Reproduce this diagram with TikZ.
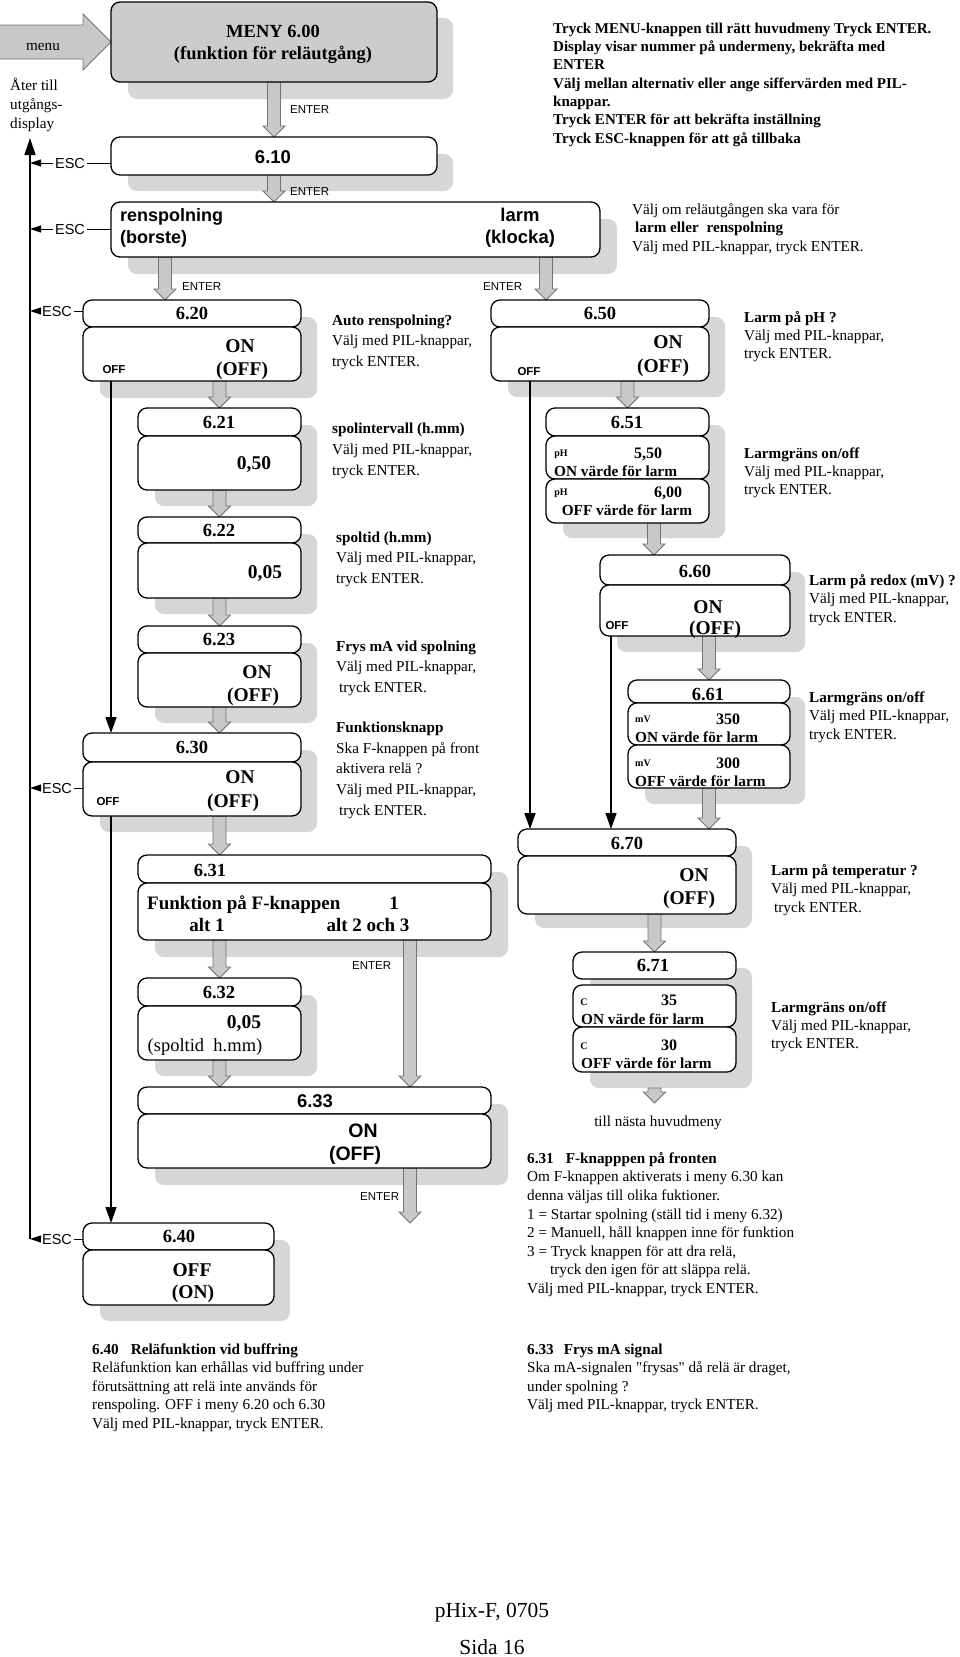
\documentclass[tikz,border=0pt]{standalone}
\usepackage{fontspec}
\setmainfont{Liberation Serif}
\setsansfont{Liberation Sans}
\newfontfamily\qfont{Liberation Serif}
\usetikzlibrary{arrows.meta,calc}
\definecolor{shgray}{RGB}{214,214,214}
\definecolor{argray}{RGB}{200,200,200}
\definecolor{aredge}{RGB}{115,115,115}
\definecolor{mngray}{RGB}{204,204,204}
\pgfdeclarelayer{bg}
\pgfsetlayers{bg,main}
\newcommand\mkbx[6][bx]{\node[#1,minimum width={#5pt-#3pt},minimum height={#6pt-#4pt}] (#2) at (#3,#4) {};}
\newcommand\zgarr[2]{\draw[garrow] let \p1=(#1), \p2=(#2) in (\x1-6.5pt,\y1) -- (\x1-6.5pt,\y2+11pt) -- (\x1-11pt,\y2+11pt) -- (\x1,\y2) -- (\x1+11pt,\y2+11pt) -- (\x1+6.5pt,\y2+11pt) -- (\x1+6.5pt,\y1) -- cycle;}
\newcommand\zpara[7][]{\node[anchor=north west,inner sep=0pt,align=left,font=\fontsize{#5}{#6}\selectfont#1] (#2) at (#3,{#4-0.7*#6}) {\strut#7};}
\begin{document}
\begin{tikzpicture}[x=1pt,y=-1pt,
 bx/.style={draw=black,line width=1.3pt,rounded corners=9pt,fill=white,inner sep=0pt,outer sep=0pt,anchor=north west},
 bxg/.style={bx,fill=mngray},
 shd/.style={fill=shgray,rounded corners=9pt,inner sep=0pt,outer sep=0pt,anchor=north west},
 garrow/.style={fill=argray,draw=aredge,line width=0.9pt,line join=miter},
 blk/.style={line width=1.4pt,-{Triangle[length=16pt,width=11pt]}},
 escarr/.style={line width=1pt,-{Triangle[length=11pt,width=7pt]}},
 thinl/.style={line width=0.9pt},
 lbl/.style={anchor=base,inner sep=0pt},
 lblw/.style={anchor=base west,inner sep=0pt},
 num/.style={lbl,font=\fontsize{18.5}{21}\selectfont\bfseries},
 onf/.style={lbl,font=\fontsize{19.5}{22}\selectfont\bfseries},
 fnt/.style={lbl,font=\fontsize{19}{22}\selectfont\bfseries},
 offs/.style={lbl,font=\sffamily\bfseries\fontsize{11.5}{13}\selectfont},
 ent/.style={lblw,font=\sffamily\fontsize{11.5}{13}\selectfont},
 esc/.style={anchor=base,inner sep=2pt,font=\sffamily\fontsize{14.5}{17}\selectfont},
 val/.style={lbl,font=\fontsize{16}{18}\selectfont\bfseries},
 vtx/.style={lblw,font=\fontsize{15.3}{18}\selectfont\bfseries},
 unit/.style={lbl,font=\fontsize{10}{12}\selectfont\bfseries},
 sbig/.style={lbl,font=\sffamily\bfseries\fontsize{18.5}{21}\selectfont},
 sbigw/.style={lblw,font=\sffamily\bfseries\fontsize{18}{21}\selectfont},
 plain/.style={lbl,font=\fontsize{15.2}{18}\selectfont},
]
\useasboundingbox (0,0) rectangle (960,1657);

% ---------- shadows ----------
\begin{pgfonlayer}{bg}
\mkbx[shd]{smeny}{128}{18}{453}{99}
\mkbx[shd]{s610}{128}{154}{453}{191}
\mkbx[shd]{srens}{128}{219}{617}{274}
\mkbx[shd]{s620}{100}{317}{317}{398}
\mkbx[shd]{s621}{155}{425}{317}{506}
\mkbx[shd]{s622}{155}{534}{317}{614}
\mkbx[shd]{s623}{155}{643}{317}{723}
\mkbx[shd]{s630}{100}{750}{317}{832}
\mkbx[shd]{s631}{155}{872}{508}{957}
\mkbx[shd]{s632}{155}{995}{317}{1076}
\mkbx[shd]{s633}{155}{1104}{508}{1185}
\mkbx[shd]{s640}{100}{1240}{290}{1321}
\mkbx[shd]{s650}{508}{317}{725}{397}
\mkbx[shd]{s651}{563}{425}{725}{538}
\mkbx[shd]{s660}{617}{572}{805}{652}
\mkbx[shd]{s661}{645}{697}{805}{804}
\mkbx[shd]{s670}{535}{846}{752}{928}
\mkbx[shd]{s671}{590}{968}{752}{1088}
\end{pgfonlayer}

% ---------- boxes ----------
\mkbx[bxg]{meny}{111}{2}{437}{82}
\mkbx{h610}{111}{137}{437}{175}
\mkbx{rens}{111}{202}{600}{257}
\mkbx{h620}{83}{300}{301}{327}
\mkbx{b620}{83}{327}{301}{381}
\mkbx{h621}{138}{408}{301}{436}
\mkbx{b621}{138}{436}{301}{490}
\mkbx{h622}{138}{517}{301}{543}
\mkbx{b622}{138}{543}{301}{598}
\mkbx{h623}{138}{626}{301}{653}
\mkbx{b623}{138}{653}{301}{707}
\mkbx{h630}{83}{733}{301}{762}
\mkbx{b630}{83}{762}{301}{816}
\mkbx{h631}{138}{855}{491}{883}
\mkbx{b631}{138}{883}{491}{940}
\mkbx{h632}{138}{978}{301}{1006}
\mkbx{b632}{138}{1006}{301}{1060}
\mkbx{h633}{138}{1087}{491}{1114}
\mkbx{b633}{138}{1114}{491}{1168}
\mkbx{h640}{83}{1223}{274}{1250}
\mkbx{b640}{83}{1250}{274}{1305}
\mkbx{h650}{491}{300}{709}{327}
\mkbx{b650}{491}{327}{709}{381}
\mkbx{h651}{546}{408}{709}{436}
\mkbx{b651a}{546}{436}{709}{479}
\mkbx{b651b}{546}{479}{709}{523}
\mkbx{h660}{600}{555}{790}{585}
\mkbx{b660}{600}{585}{790}{636}
\mkbx{h661}{628}{680}{790}{703}
\mkbx{b661a}{628}{703}{790}{745}
\mkbx{b661b}{628}{745}{790}{788}
\mkbx{h670}{518}{829}{736}{856}
\mkbx{b670}{518}{856}{736}{914}
\mkbx{h671}{573}{952}{736}{979}
\mkbx{b671a}{573}{985}{736}{1027}
\mkbx{b671b}{573}{1027}{736}{1072}

% ---------- helper coordinates ----------
\coordinate (cA) at (165,0);
\coordinate (cB) at (546,0);
\coordinate (cC) at (654,0);
\coordinate (cD) at (410,0);
\coordinate (x111) at (111,0);
\coordinate (x530) at (530,0);
\coordinate (x611) at (611,0);
\coordinate (vtop) at (30,138);
\coordinate (vbot) at (30,1239);
\coordinate (end633) at (410,1223);
\coordinate (end671) at (654,1103);

% ---------- gray block arrows ----------
\begin{pgfonlayer}{bg}
\draw[garrow] let \p1=(meny.west) in (-2pt,\y1+17pt) -- (\x1-28pt,\y1+17pt) -- (\x1-28pt,\y1+28pt) -- (\x1,\y1) -- (\x1-28pt,\y1-28pt) -- (\x1-28pt,\y1-17pt) -- (-2pt,\y1-17pt) -- cycle;
\zgarr{meny.south}{h610.north}
\zgarr{h610.south}{rens.north -| h610.south}
\zgarr{rens.south -| cA}{h620.north -| cA}
\zgarr{rens.south -| cB}{h650.north -| cB}
\zgarr{b620.south -| h621.north}{h621.north}
\zgarr{b621.south}{h622.north}
\zgarr{b622.south}{h623.north}
\zgarr{b623.south}{h630.north -| b623.south}
\zgarr{b630.south -| h632.north}{h631.north -| h632.north}
\zgarr{b631.south -| h632.north}{h632.north}
\zgarr{b631.south -| cD}{h633.north -| cD}
\zgarr{b632.south}{h633.north -| b632.south}
\zgarr{b633.south -| cD}{end633}
\zgarr{b650.south -| h651.north}{h651.north}
\zgarr{b651b.south -| cC}{h660.north -| cC}
\zgarr{b660.south -| h661.north}{h661.north}
\zgarr{b661b.south}{h670.north -| b661b.south}
\zgarr{b670.south -| h671.north}{h671.north}
\zgarr{s671.south -| h671.north}{end671}
\end{pgfonlayer}

% ---------- texts in and beside the top boxes ----------
\node[plain] (menut) at (43,50) {menu};
\zpara{ater}{10}{90}{15.2}{19}{Åter till\\utgångs-\\display}
\node[num] (m1) at (273,37) {MENY 6.00};
\node[num] (m2) at (273,59) {(funktion för reläutgång)};
\node[sbig] (t610) at (273,163) {6.10};
\node[sbigw] (tr1) at (120,221) {renspolning};
\node[sbigw] (tr2) at (120,243) {(borste)};
\node[sbig] (tl1) at (520,221) {larm};
\node[sbig] (tl2) at (520,243) {(klocka)};

\zpara[\bfseries]{ttop}{553}{33}{15}{18.3}{Tryck MENU-knappen till rätt huvudmeny Tryck ENTER.\\Display visar nummer på undermeny, bekräfta med\\ENTER\\Välj mellan alternativ eller ange siffervärden med PIL-\\knappar.\\Tryck ENTER för att bekräfta inställning\\Tryck ESC-knappen för att gå tillbaka}
\zpara{trens}{632}{214}{15.2}{18.5}{Välj om reläutgången ska vara för\\\hspace*{3pt}\textbf{larm eller\ \ renspolning}\\Välj med PIL-knappar, tryck ENTER.}

% ENTER labels
\node[ent] (e1) at (290,113) {ENTER};
\node[ent] (e2) at (290,195) {ENTER};
\node[ent] (e3) at (182,290) {ENTER};
\node[ent] (e4) at (483,290) {ENTER};
\node[ent] (e5) at (352,969) {ENTER};
\node[ent] (e6) at (360,1200) {ENTER};

% ---------- left column ----------
\node[num] (t620) at (192,319.5) {6.20};
\node[onf] (t620a) at (240,352.5) {ON};
\node[onf] (t620b) at (242,375.5) {(OFF)};
\node[offs] (o620) at (114,373) {OFF};
\zpara{a620}{332}{325}{15.2}{20.5}{\textbf{Auto renspolning?}\\Välj med PIL-knappar,\\tryck ENTER.}

\node[num] (t621) at (219,428) {6.21};
\node[onf] (t621a) at (254,469) {0,50};
\zpara{a621}{332}{433}{15.2}{21}{\textbf{spolintervall (h.mm)}\\Välj med PIL-knappar,\\tryck ENTER.}

\node[num] (t622) at (219,536) {6.22};
\node[onf] (t622a) at (265,578) {0,05};
\zpara{a622}{336}{542}{15.2}{20.5}{\textbf{spoltid (h.mm)}\\Välj med PIL-knappar,\\tryck ENTER.}

\node[num] (t623) at (219,645) {6.23};
\node[onf] (t623a) at (257,678.5) {ON};
\node[onf] (t623b) at (253,701.5) {(OFF)};
\zpara{a623}{336}{651}{15.2}{20.5}{\textbf{Frys mA vid spolning}\\Välj med PIL-knappar,\\\hspace*{3pt}tryck ENTER.}

\node[num] (t630) at (192,753) {6.30};
\node[onf] (t630a) at (240,783.5) {ON};
\node[onf] (t630b) at (233,807.5) {(OFF)};
\node[offs] (o630) at (108,805) {OFF};
\zpara{a630}{336}{732}{15.2}{20.8}{\textbf{Funktionsknapp}\\Ska F-knappen på front\\aktivera relä ?\\Välj med PIL-knappar,\\\hspace*{3pt}tryck ENTER.}

\node[num] (t631) at (210,876) {6.31};
\node[fnt,anchor=base west] (t631a) at (147,909) {Funktion på F-knappen};
\node[fnt] (t631b) at (394,909) {1};
\node[fnt] (t631c) at (207,931) {alt 1};
\node[fnt] (t631d) at (368,931) {alt 2 och 3};

\node[num] (t632) at (219,998) {6.32};
\node[onf] (t632a) at (244,1028) {0,05};
\node[lbl,font=\fontsize{18.5}{21}\selectfont] (t632b) at (205,1051) {(spoltid\ \ h.mm)};

\node[sbig] (t633) at (315,1107) {6.33};
\node[lbl,font=\sffamily\bfseries\fontsize{19.5}{22}\selectfont] (t633a) at (363,1137) {ON};
\node[lbl,font=\sffamily\bfseries\fontsize{19.5}{22}\selectfont] (t633b) at (355,1160) {(OFF)};

\node[num] (t640) at (179,1242) {6.40};
\node[onf] (t640a) at (192,1276.5) {OFF};
\node[onf] (t640b) at (193,1298.5) {(ON)};

% ---------- right column ----------
\node[num] (t650) at (600,319.5) {6.50};
\node[onf] (t650a) at (668,348.5) {ON};
\node[onf] (t650b) at (663,372.5) {(OFF)};
\node[offs] (o650) at (529,375) {OFF};
\zpara{a650}{744}{322}{15.2}{18}{\textbf{Larm på pH ?}\\Välj med PIL-knappar,\\tryck ENTER.}

\node[num] (t651) at (627,428) {6.51};
\node[unit] (u651a) at (561,456.5) {pH};
\node[val] (v651a) at (648,458.5) {5,50};
\node[vtx] (w651a) at (554,476) {ON värde för larm};
\node[unit] (u651b) at (561,495.5) {pH};
\node[val] (v651b) at (668,497.5) {6,00};
\node[vtx,anchor=base] (w651b) at (627,515) {OFF värde för larm};
\zpara{a651}{744}{458}{15.2}{18}{\textbf{Larmgräns on/off}\\Välj med PIL-knappar,\\tryck ENTER.}

\node[num] (t660) at (695,577) {6.60};
\node[onf] (t660a) at (708,613.5) {ON};
\node[onf] (t660b) at (715,634.5) {(OFF)};
\node[offs] (o660) at (617,629) {OFF};
\zpara{a660}{809}{585}{15.2}{18.5}{\textbf{Larm på redox (mV) ?}\\Välj med PIL-knappar,\\tryck ENTER.}

\node[num] (t661) at (708,700) {6.61};
\node[unit] (u661a) at (643,722.5) {mV};
\node[val] (v661a) at (728,724) {350};
\node[vtx] (w661a) at (635,742) {ON värde för larm};
\node[unit] (u661b) at (643,766.5) {mV};
\node[val] (v661b) at (728,768) {300};
\node[vtx] (w661b) at (635,786) {OFF värde för larm};
\zpara{a661}{809}{702}{15.2}{18.5}{\textbf{Larmgräns on/off}\\Välj med PIL-knappar,\\tryck ENTER.}

\node[num] (t670) at (627,849) {6.70};
\node[onf] (t670a) at (694,881.5) {ON};
\node[onf] (t670b) at (689,904.5) {(OFF)};
\zpara{a670}{771}{875}{15.2}{18.5}{\textbf{Larm på temperatur ?}\\Välj med PIL-knappar,\\\hspace*{3pt}tryck ENTER.}

\node[num] (t671) at (653,971) {6.71};
\node[unit] (u671a) at (584,1005.5) {C};
\node[val] (v671a) at (669,1005) {35};
\node[vtx] (w671a) at (581,1024) {ON värde för larm};
\node[unit] (u671b) at (584,1049.5) {C};
\node[val] (v671b) at (669,1050) {30};
\node[vtx] (w671b) at (581,1068) {OFF värde för larm};
\zpara{a671}{771}{1012}{15.2}{18}{\textbf{Larmgräns on/off}\\Välj med PIL-knappar,\\tryck ENTER.}

\node[plain] (nasta) at (658,1126) {till nästa huvudmeny};

% ---------- notes ----------
\zpara{n631}{527}{1163}{15.2}{18.6}{\textbf{6.31\hspace{12pt}F-knapppen på fronten}\\Om F-knappen aktiverats i meny 6.30 kan\\denna väljas till olika fuktioner.\\1 = Startar spolning (ställ tid i meny 6.32)\\2 = Manuell, håll knappen inne för funktion\\3 = Tryck knappen för att dra relä,\\\hspace*{23pt}tryck den igen för att släppa relä.\\Välj med PIL-knappar, tryck ENTER.}
\zpara{n640}{92}{1354}{15.2}{18.5}{\textbf{6.40\hspace{12pt}Reläfunktion vid buffring}\\Reläfunktion kan erhållas vid buffring under\\förutsättning att relä inte används för\\renspoling. OFF i meny 6.20 och 6.30\\Välj med PIL-knappar, tryck ENTER.}
\zpara{n633}{527}{1354}{15.2}{18.5}{\textbf{6.33\hspace{10pt}Frys mA signal}\\Ska mA-signalen {\qfont"}frysas{\qfont"} då relä är draget,\\under spolning ?\\Välj med PIL-knappar, tryck ENTER.}

\node[lbl,font=\fontsize{21.5}{24}\selectfont] (foot1) at (492,1617) {pHix-F, 0705};
\node[lbl,font=\fontsize{21.5}{24}\selectfont] (foot2) at (492,1654) {Sida 16};

% ---------- ESC connectors ----------
\node[esc] (esc1) at (70,168) {ESC};
\node[esc] (esc2) at (70,234) {ESC};
\node[esc] (esc3) at (57,316) {ESC};
\node[esc] (esc4) at (57,793) {ESC};
\node[esc] (esc5) at (57,1244) {ESC};
\draw[thinl] (esc1.east) -- (esc1.east -| h610.west);
\draw[thinl] (esc2.east) -- (esc2.east -| rens.west);
\draw[thinl] (esc3.east) -- (esc3.east -| h620.west);
\draw[thinl] (esc4.east) -- (esc4.east -| b630.west);
\draw[thinl] (esc5.east) -- (esc5.east -| h640.west);
\draw[escarr] (esc1.west) -- (esc1.west -| vtop);
\draw[escarr] (esc2.west) -- (esc2.west -| vtop);
\draw[escarr] (esc3.west) -- (esc3.west -| vtop);
\draw[escarr] (esc4.west) -- (esc4.west -| vtop);
\draw[escarr] (esc5.west) -- (vbot);
\draw[line width=1.4pt,-{Triangle[length=17pt,width=11pt]}] (vbot) -- (vtop);

% ---------- OFF connectors ----------
\draw[blk] (b620.south -| x111) -- (h630.north -| x111);
\draw[blk] (b630.south -| x111) -- (h640.north -| x111);
\draw[blk] (b650.south -| x530) -- (h670.north -| x530);
\draw[blk] (b660.south -| x611) -- (h670.north -| x611);
\end{tikzpicture}
\end{document}
